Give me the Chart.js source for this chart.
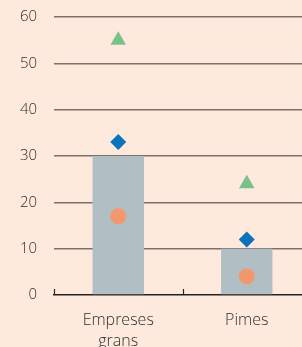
<!DOCTYPE html>
<html>
<head>
<meta charset="utf-8">
<script src="https://cdn.jsdelivr.net/npm/chart.js@4/dist/chart.umd.min.js"></script>
<style>
  html, body { margin: 0; padding: 0; background: #fdeadd; overflow: hidden; }
  #wrap { width: 320px; height: 347px; }
</style>
</head>
<body>
<div id="wrap"><canvas id="myChart" width="320" height="347"></canvas></div>
<script>
// Data
var categories = [["Empreses", "grans"], "Pimes"];
var barValues = [30, 10];
var triangleValues = [55, 24];
var diamondValues = [33, 12];
var circleValues = [17, 4];
var yTicks = [0, 10, 20, 30, 40, 50, 60];

// small upward ticks on the x axis at category borders
var xTickMarks = {
  id: 'xTickMarks',
  afterDraw: function (chart) {
    var ctx = chart.ctx;
    var xs = chart.scales.x;
    var y0 = xs.top;
    var pts = [xs.left];
    for (var i = 0; i < categories.length - 1; i++) {
      pts.push((xs.getPixelForValue(i) + xs.getPixelForValue(i + 1)) / 2);
    }
    ctx.save();
    ctx.strokeStyle = '#222';
    ctx.lineWidth = 1.2;
    pts.forEach(function (px) {
      ctx.beginPath();
      ctx.moveTo(Math.round(px) + 0.5, y0);
      ctx.lineTo(Math.round(px) + 0.5, y0 - 6);
      ctx.stroke();
    });
    ctx.restore();
  }
};

new Chart("myChart", {
  type: "bar",
  data: {
    labels: categories,
    datasets: [{
      type: "line",
      data: triangleValues,
      showLine: false,
      pointStyle: "triangle",
      pointRadius: 9,
      backgroundColor: "#78c28a",
      borderColor: "#78c28a",
      borderWidth: 0,
      order: 1
    }, {
      type: "line",
      data: diamondValues,
      showLine: false,
      pointStyle: "rectRot",
      pointRadius: 8,
      backgroundColor: "#0b72bd",
      borderColor: "#0b72bd",
      borderWidth: 0,
      order: 1
    }, {
      type: "line",
      data: circleValues,
      showLine: false,
      pointStyle: "circle",
      pointRadius: 8,
      backgroundColor: "#f3976c",
      borderColor: "#f3976c",
      borderWidth: 0,
      order: 1
    }, {
      data: barValues,
      backgroundColor: "#b1bec3",
      barPercentage: 0.4,
      categoryPercentage: 1,
      order: 2
    }]
  },
  options: {
    responsive: false,
    animation: false,
    layout: { padding: { top: 17, right: 0, bottom: 0, left: 0 } },
    plugins: { legend: { display: false }, tooltip: { enabled: false } },
    scales: {
      x: {
        afterFit: function (scale) { scale.height = 52; },
        grid: { display: false, offset: true },
        border: { display: true, color: "#222", width: 1.5 },
        ticks: {
          color: "#2e2e2e",
          padding: 7,
          font: { family: "'Open Sans'", size: 16, weight: 300, lineHeight: 1.3 }
        }
      },
      y: {
        min: 0,
        max: 60,
        afterFit: function (scale) {
          scale.width = 54;
          scale.paddingTop = 0;
          scale.paddingBottom = 0;
        },
        afterBuildTicks: function (scale) {
          scale.ticks = yTicks.map(function (v) { return { value: v }; });
        },
        grid: {
          drawTicks: false,
          lineWidth: 1.5,
          color: function (c) { return c.tick && c.tick.value === 0 ? "rgba(0,0,0,0)" : "#7a716c"; }
        },
        border: { display: false },
        ticks: {
          color: "#2e2e2e",
          padding: 17,
          font: { family: "'Open Sans'", size: 15, weight: 300 }
        }
      }
    }
  },
  plugins: [xTickMarks]
});
</script>
</body>
</html>
